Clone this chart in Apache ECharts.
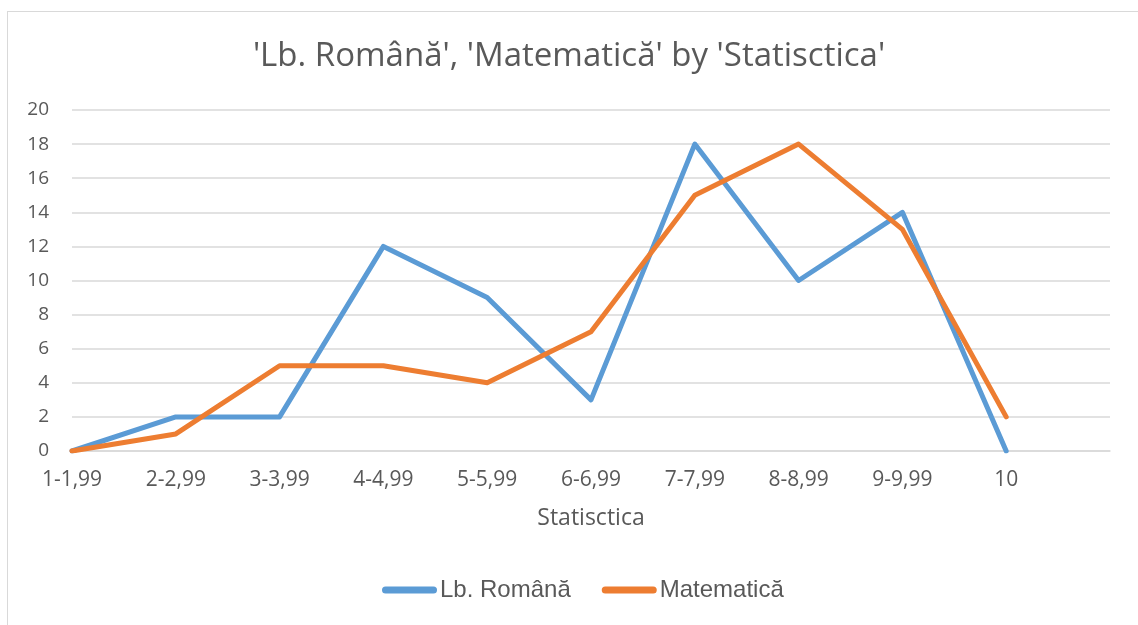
<!DOCTYPE html>
<html lang="en">
<head>
    <meta charset="UTF-8">
    <script src="https://cdn.jsdelivr.net/npm/echarts@6/dist/echarts.min.js"></script>
    <title>Chart</title>
    <style>
        html, body { height: 100%; }
        * { padding: 0; margin: 0; }
        body { background: #fff; }
        #frame {
            position: absolute; left: 7px; top: 11px; width: 1140px; height: 630px;
            border: 1px solid #d9d9d9; box-sizing: border-box;
        }
        #graph { position: absolute; left: 0; top: 0; width: 1138px; height: 625px; }
    </style>
</head>
<body>
    <div id="frame"></div>
    <div id="graph"></div>
    <script>
        var categories = ['1-1,99', '2-2,99', '3-3,99', '4-4,99', '5-5,99', '6-6,99', '7-7,99', '8-8,99', '9-9,99', '10', ''];
        var romana = [0, 2, 2, 12, 9, 3, 18, 10, 14, 0];
        var matematica = [0, 1, 5, 5, 4, 7, 15, 18, 13, 2];

        var myChart = echarts.init(document.getElementById('graph'));
        var option = {
            backgroundColor: 'transparent',
            animation: false,
            title: {
                text: "'Lb. Română', 'Matematică' by 'Statisctica'",
                left: 'center',
                top: 35,
                textStyle: { fontFamily: 'Open Sans', fontSize: 33, fontWeight: 'normal', color: '#595959' }
            },
            legend: {
                top: 578,
                left: 382,
                padding: 0,
                itemWidth: 55,
                itemHeight: 7,
                itemGap: 31,
                icon: 'path://M3.5,0 L51.5,0 A3.5,3.5 0 0 1 51.5,7 L3.5,7 A3.5,3.5 0 0 1 3.5,0 Z',
                textStyle: { fontFamily: 'Liberation Sans', fontSize: 24, color: '#595959', padding: [0, 0, 0, -2] },
                data: ['Lb. Română', 'Matematică']
            },
            grid: { left: 72, right: 28, top: 110, bottom: 174 },
            xAxis: {
                type: 'category',
                data: categories,
                boundaryGap: false,
                name: 'Statisctica',
                nameLocation: 'middle',
                nameGap: 56,
                nameTextStyle: { fontFamily: 'Open Sans', fontSize: 23, color: '#595959' },
                axisLine: { lineStyle: { color: '#d9d9d9', width: 1.5 } },
                axisTick: { show: false },
                axisLabel: { fontFamily: 'Open Sans', fontSize: 21, color: '#595959', margin: 19 }
            },
            yAxis: {
                type: 'value',
                min: 0,
                max: 20,
                interval: 2,
                axisLine: { show: false },
                axisTick: { show: false },
                axisLabel: { fontFamily: 'Open Sans', fontSize: 19, color: '#595959', margin: 23 },
                splitLine: { lineStyle: { color: '#d9d9d9', width: 1.5 } }
            },
            series: [
                {
                    name: 'Lb. Română',
                    type: 'line',
                    data: romana,
                    symbol: 'none',
                    color: '#5b9bd5',
                    lineStyle: { width: 5, cap: 'round', join: 'round' }
                },
                {
                    name: 'Matematică',
                    type: 'line',
                    data: matematica,
                    symbol: 'none',
                    color: '#ed7d31',
                    lineStyle: { width: 5, cap: 'round', join: 'round' }
                }
            ]
        };
        myChart.setOption(option);
    </script>
</body>
</html>
